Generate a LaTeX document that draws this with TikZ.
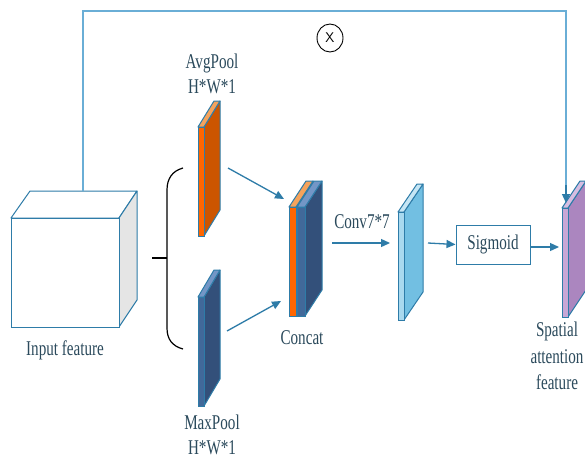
\documentclass[tikz,border=0pt]{standalone}
\usepackage{fontspec}
\setmainfont{Liberation Serif}
\usetikzlibrary{arrows.meta,shapes.geometric}
\definecolor{edge}{HTML}{2E7CA8}
\definecolor{topline}{HTML}{6AAED6}
\definecolor{txt}{HTML}{2B4A5C}
\definecolor{orF}{HTML}{FF6600}
\definecolor{orS}{HTML}{CC5500}
\definecolor{orT}{HTML}{F5A35C}
\definecolor{blF}{HTML}{41699A}
\definecolor{blS}{HTML}{33507A}
\definecolor{blT}{HTML}{7396C6}
\definecolor{cvF}{HTML}{A9D9EF}
\definecolor{cvS}{HTML}{72BFE2}
\definecolor{cvT}{HTML}{C6E6F5}
\definecolor{spF}{HTML}{C8A7D6}
\definecolor{spS}{HTML}{AB86BF}
\definecolor{spT}{HTML}{D6BDE1}
% x1 x2 ytop ybot dx dy front side top
\newcommand\myslab[9]{%
  \filldraw[fill=#8,draw=edge,line width=1pt,line join=round] (#2,#3) -- ({#2+#5},{#3-#6}) -- ({#2+#5},{#4-#6}) -- (#2,#4) -- cycle;
  \filldraw[fill=#9,draw=edge,line width=1pt,line join=round] (#1,#3) -- ({#1+#5},{#3-#6}) -- ({#2+#5},{#3-#6}) -- (#2,#3) -- cycle;
  \filldraw[fill=#7,draw=edge,line width=1pt] (#1,#3) rectangle (#2,#4);
}
\tikzset{
  lbl/.style={text=txt,font=\fontsize{21}{25}\selectfont,xscale=0.72,align=center,inner sep=0pt},
  arr/.style={draw=edge,line width=1.3pt,-{Triangle[length=9pt,width=8pt]}},
}
\begin{document}
\begin{tikzpicture}[x=1pt,y=-1pt]
\useasboundingbox (0,0) rectangle (585,458);
\clip (0,0) rectangle (585,458);
\fill[white] (0,0) rectangle (585,458);

% input cube
\filldraw[fill=white,draw=edge,line width=1pt,line join=round] (11,218) -- (30,191) -- (137,191) -- (119,218) -- cycle;
\filldraw[fill=black!10,draw=edge,line width=1pt,line join=round] (119,218) -- (137,191) -- (137,300) -- (119,327) -- cycle;
\filldraw[fill=white,draw=edge,line width=1pt] (11,218) rectangle (119,327);
\coordinate (cubetop) at (83,191);
\node[lbl] (inlbl) at (65,350) {Input feature};

% brace
\draw[black,line width=1.2pt] (183,168) .. controls (172,171) and (167,179) .. (167,190) -- (167,328) .. controls (167,339) and (172,346) .. (183,349);
\coordinate (brmid) at (167,258);
\coordinate (brtick) at (152,258);
\draw[black,line width=1.5pt] (brtick) -- (brmid);

% avgpool
\myslab{198}{204}{127}{236}{16}{26}{orF}{orS}{orT}
\node[lbl] (avglbl) at (212,73.5) {AvgPool\\H*W*1};
\coordinate (avgout) at (228,168);

% maxpool
\myslab{198}{204}{297}{406}{16}{27}{blF}{blS}{blT}
\node[lbl] (maxlbl) at (212,434.5) {MaxPool\\H*W*1};
\coordinate (maxout) at (227,331);

% concat
\myslab{289}{296}{207}{316}{17}{26}{orF}{orS}{orT}
\myslab{297}{305}{207}{316}{17}{26}{blF}{blS}{blT}
\coordinate (catin1) at (284,199);
\coordinate (catin2) at (281,301);
\node[lbl] (catlbl) at (302,338) {Concat};
\draw[arr] (avgout) -- (catin1);
\draw[arr] (maxout) -- (catin2);

% conv
\coordinate (catout) at (332,243);
\coordinate (cvin) at (390,243);
\draw[arr] (catout) -- (cvin);
\node[lbl] (cvlbl) at (362,222) {Conv7*7};
\myslab{398}{404}{212}{320}{19}{28}{cvF}{cvS}{cvT}

% sigmoid
\node[draw=edge,line width=1pt,minimum width=74pt,minimum height=39pt,inner sep=0pt] (sig) at (493,244.5) {};
\node[lbl] at (sig.center) {Sigmoid};
\coordinate (cvout) at (428,243);
\draw[arr] (cvout) -- (sig.west);
\coordinate (spin) at (559,247);
\draw[arr] (sig.east |- spin) -- (spin);

% spatial attention
\myslab{562}{568}{208}{317}{18}{27}{spF}{spS}{spT}
\node[lbl,font=\fontsize{21}{26.5}\selectfont] (splbl) at (557,356) {Spatial\\attention\\feature};

% top connection
\coordinate (satop) at (566,203);
\draw[draw=topline,line width=1.2pt] (cubetop) -- (83,11) -- (566,11) -- (566,190);
\draw[arr] (566,185) -- (satop);

% multiply symbol
\node[draw=black,ellipse,line width=0.9pt,minimum width=26pt,minimum height=28pt,inner sep=0pt,font=\fontfamily{lmss}\fontsize{14}{14}\selectfont] (mul) at (330,38) {X};
\end{tikzpicture}
\end{document}
